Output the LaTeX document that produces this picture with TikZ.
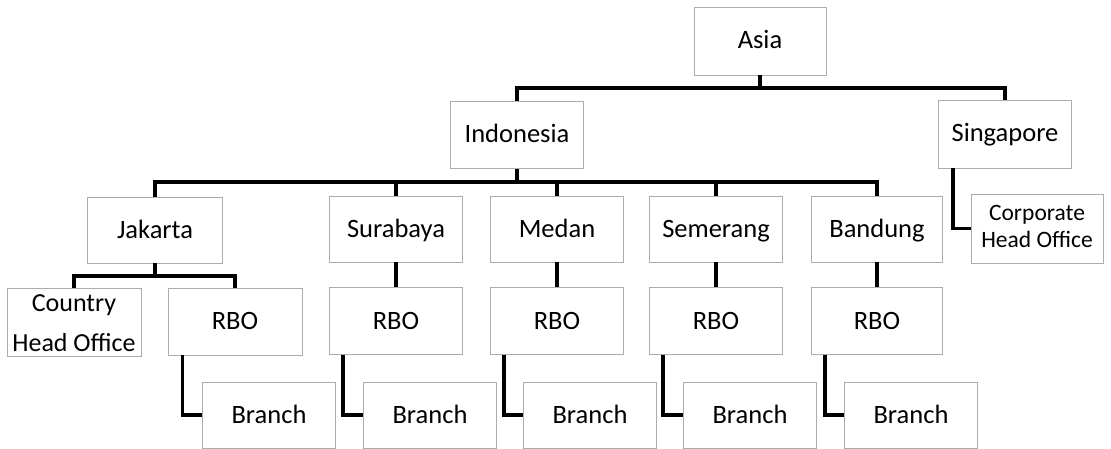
\documentclass[tikz,border=0pt]{standalone}
\usepackage{fontspec}
\setmainfont{Carlito}
\begin{document}
\begin{tikzpicture}[x=1pt,y=-1pt,
  orgbox/.style={draw=gray!65,line width=0.7pt,fill=white,inner sep=0pt,
    minimum width=133pt,minimum height=67pt,align=center,
    text height=20pt,text depth=4pt,
    font=\fontsize{26.5}{30}\selectfont},
  link/.style={line width=3.6pt,black}]
\useasboundingbox (0,0) rectangle (1111,449);
% nodes
\node[orgbox,minimum width=132pt,minimum height=68pt] (asia) at (760,41) {Asia};
\node[orgbox] (indo) at (517,135) {Indonesia};
\node[orgbox,minimum height=68pt] (sing) at (1005,134) {Singapore};
\node[orgbox,minimum width=135pt,minimum height=66pt] (jak) at (155,230) {Jakarta};
\node[orgbox,minimum height=66pt] (sura) at (396,229) {Surabaya};
\node[orgbox,minimum height=66pt] (medan) at (557,229) {Medan};
\node[orgbox,minimum height=66pt] (sem) at (716,229) {Semerang};
\node[orgbox,minimum width=131pt,minimum height=66pt] (band) at (877,229) {Bandung};
\node[orgbox,minimum width=132pt,minimum height=69pt,text height=46pt,text depth=8pt,
  font=\fontsize{23.5}{27.5}\selectfont] (corp) at (1037,228.5) {Corporate\\Head Office};
\node[orgbox,minimum width=134pt,minimum height=68pt,text height=61pt,text depth=3pt,
  font=\fontsize{26}{40}\selectfont] (cho) at (74,322) {Country\\Head Office};
\node[orgbox,minimum width=134pt] (rbo1) at (235,321.5) {RBO};
\node[orgbox] (rbo2) at (396,321) {RBO};
\node[orgbox] (rbo3) at (557,321) {RBO};
\node[orgbox] (rbo4) at (716,321) {RBO};
\node[orgbox,minimum width=131pt] (rbo5) at (877,321) {RBO};
\node[orgbox,minimum height=66pt] (br1) at (269,415) {Branch};
\node[orgbox,minimum height=66pt] (br2) at (430,415) {Branch};
\node[orgbox,minimum height=66pt] (br3) at (590,415) {Branch};
\node[orgbox,minimum height=66pt] (br4) at (750,415) {Branch};
\node[orgbox,minimum height=66pt] (br5) at (911,415) {Branch};
% junctions
\coordinate (ak) at (760,88);
\coordinate (ik) at (517,182);
\coordinate (jk) at (155,276);
% connectors
\draw[link] (indo.north) |- (ak) -| (sing.north);
\draw[link] (asia.south) -- (ak);
\draw[link] (jak.north) |- (ik) -| (band.north);
\draw[link] (indo.south) -- (ik);
\draw[link] (sura.north) -- (sura.north |- ik);
\draw[link] (medan.north) -- (medan.north |- ik);
\draw[link] (sem.north) -- (sem.north |- ik);
\draw[link] ([xshift=15pt]sing.south west) |- (corp.west);
\draw[link] (cho.north) |- (jk) -| (rbo1.north);
\draw[link] (jak.south) -- (jk);
\draw[link] (sura.south) -- (rbo2.north);
\draw[link] (medan.south) -- (rbo3.north);
\draw[link] (sem.south) -- (rbo4.north);
\draw[link] (band.south) -- (rbo5.north);
\draw[link] ([xshift=15pt]rbo1.south west) |- (br1.west);
\draw[link] ([xshift=14pt]rbo2.south west) |- (br2.west);
\draw[link] ([xshift=14pt]rbo3.south west) |- (br3.west);
\draw[link] ([xshift=14pt]rbo4.south west) |- (br4.west);
\draw[link] ([xshift=14pt]rbo5.south west) |- (br5.west);
\end{tikzpicture}
\end{document}
